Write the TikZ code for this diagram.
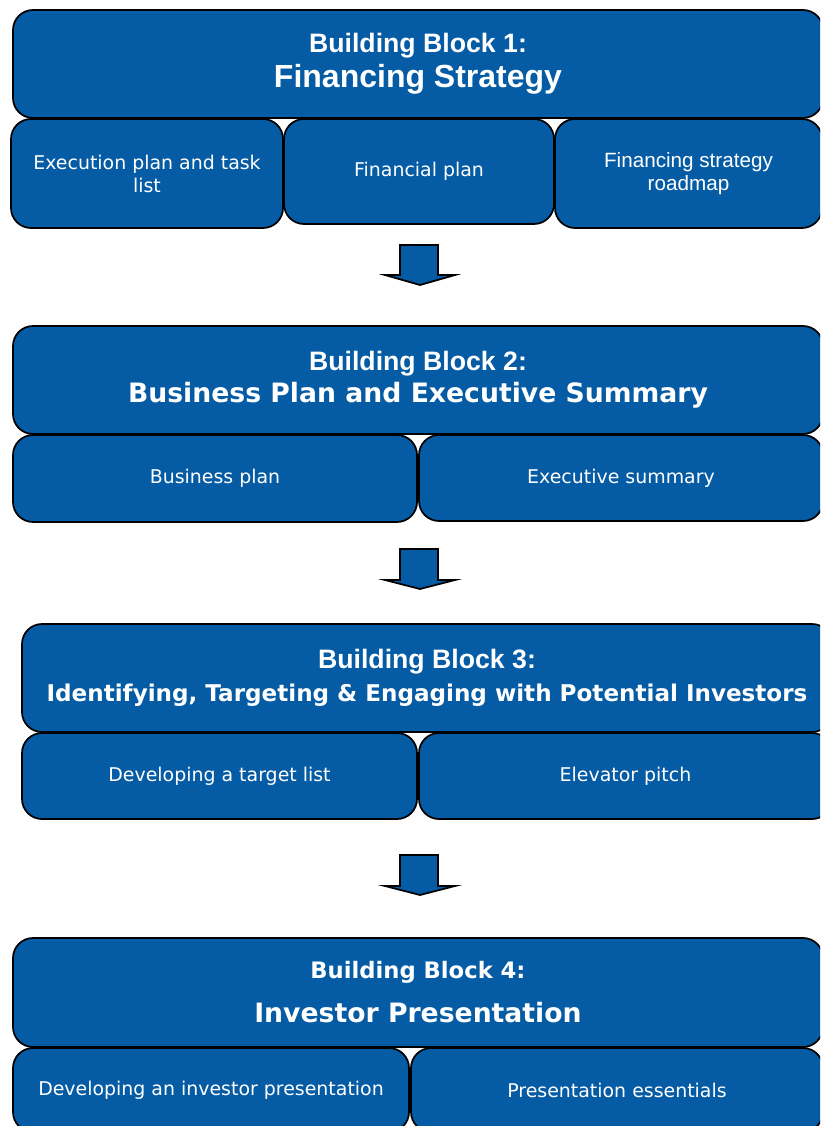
\documentclass[tikz,border=0pt]{standalone}
\usepackage{fontspec}
\newfontfamily\arialf{Liberation Sans}
\newfontfamily\verdf{DejaVu Sans}
\definecolor{bbblue}{RGB}{5,92,164}
\begin{document}
\begin{tikzpicture}[x=0.75pt,y=-0.75pt,
  blk/.style={draw=black, line width=1.3pt, fill=bbblue, rounded corners=15pt,
              text=white, align=center, inner sep=0pt},
  subtxt/.style={font=\verdf\fontsize{14.2}{17.25}\selectfont},
  subarial/.style={font=\arialf\fontsize{15.5}{17.25}\selectfont},
  downarrow/.style={draw=black, line width=1.3pt, fill=bbblue, line join=miter}]
\useasboundingbox (0,0) rectangle (820,1126);
\clip (0,0) rectangle (820,1126);

% Building block 1
\node[blk, minimum width=607.5pt, minimum height=81pt,
      font=\arialf\bfseries\fontsize{24}{26.25}\selectfont] (b1) at (418,64)
  {{\fontsize{20}{20}\selectfont Building Block 1:}\\Financing Strategy};
\node[blk, subtxt, minimum width=204pt, minimum height=81.75pt] (b1a) at (147,173.5)
  {Execution plan and task\\list};
\node[blk, subtxt, minimum width=202.5pt, minimum height=78.75pt] (b1b) at (419,171.5)
  {Financial plan};
\node[blk, subarial, minimum width=200.25pt, minimum height=81.75pt] (b1c) at (688.5,173.5)
  {Financing strategy\\roadmap};

% Building block 2
\node[blk, minimum width=607.5pt, minimum height=81pt,
      font=\verdf\bfseries\fontsize{20}{24}\selectfont] (b2) at (418,380)
  {{\arialf\fontsize{20}{20}\selectfont Building Block 2:}\\Business Plan and Executive Summary};
\node[blk, subtxt, minimum width=303pt, minimum height=65.25pt] (b2a) at (215,478.5)
  {Business plan};
\node[blk, subtxt, minimum width=303pt, minimum height=64.5pt] (b2b) at (621,478)
  {Executive summary};

% Building block 3
\node[blk, minimum width=607.5pt, minimum height=81pt,
      font=\verdf\bfseries\fontsize{17.3}{25}\selectfont] (b3) at (427,678)
  {{\arialf\fontsize{20}{20}\selectfont Building Block 3:}\\Identifying, Targeting \& Engaging with Potential Investors};
\node[blk, subtxt, minimum width=296.25pt, minimum height=64.5pt] (b3a) at (219.5,776)
  {Developing a target list};
\node[blk, subtxt, minimum width=309.75pt, minimum height=64.5pt] (b3b) at (625.5,776)
  {Elevator pitch};

% Building block 4
\node[blk, minimum width=607.5pt, minimum height=81.75pt,
      font=\verdf\bfseries\fontsize{20}{33}\selectfont] (b4) at (418,992.5)
  {{\fontsize{17}{17}\selectfont Building Block 4:}\\Investor Presentation};
\node[blk, subtxt, minimum width=297pt, minimum height=63pt] (b4a) at (211,1090)
  {Developing an investor presentation};
\node[blk, subtxt, minimum width=309pt, minimum height=63pt] (b4b) at (617,1090)
  {Presentation essentials};

% block arrows between the building blocks
\draw[downarrow] (400,245) -- (438,245) -- (438,275) -- (455,275) -- (420,285)
  -- (385,275) -- (400,275) -- cycle;
\draw[downarrow] (400,549) -- (438,549) -- (438,580) -- (455,580) -- (420,589)
  -- (385,580) -- (400,580) -- cycle;
\draw[downarrow] (400,855) -- (438,855) -- (438,886) -- (455,886) -- (420,895)
  -- (385,886) -- (400,886) -- cycle;
\end{tikzpicture}
\end{document}
